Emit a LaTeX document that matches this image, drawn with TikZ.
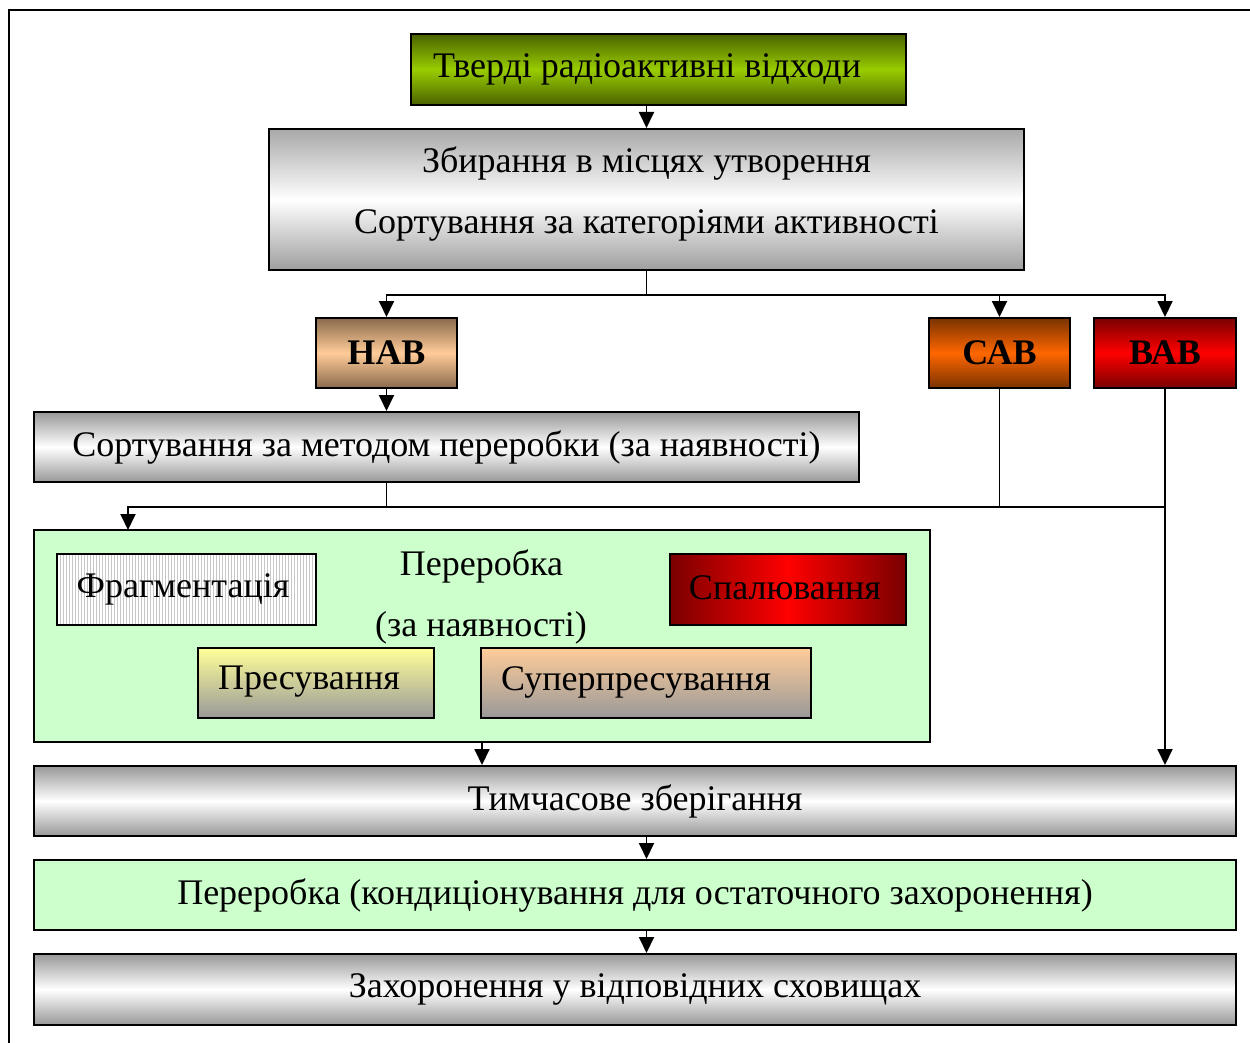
\documentclass[tikz,border=0pt]{standalone}
\usepackage{fontspec}
\setmainfont{Liberation Serif}
\usetikzlibrary{arrows.meta,patterns.meta}

\definecolor{tubegray}{HTML}{989898}
\definecolor{olive}{HTML}{4A6200}
\definecolor{lime}{HTML}{99CC00}
\definecolor{peach}{HTML}{FFCC99}
\definecolor{peachdark}{HTML}{8A6A4C}
\definecolor{orng}{HTML}{FF6600}
\definecolor{orngdark}{HTML}{7A3300}
\definecolor{redl}{HTML}{FF0000}
\definecolor{redd}{HTML}{7A0000}
\definecolor{mint}{HTML}{CCFFCC}
\definecolor{paleyel}{HTML}{FFFF99}
\definecolor{stone}{HTML}{999999}

\tikzset{
  box/.style={draw=black, line width=2pt, inner sep=0pt, font=\fontsize{36}{43}\selectfont},
  tube/.style={box, top color=tubegray, bottom color=tubegray, middle color=white},
  label/.style={inner sep=0pt, font=\fontsize{36}{43}\selectfont},
  cat/.style={box, font=\fontsize{36}{43}\selectfont\bfseries,
              minimum height=70pt},
  wire/.style={line width=1.9pt},
  arr/.style={wire, -{Triangle[length=16pt,width=15pt]}}
}

\begin{document}
\begin{tikzpicture}[x=1pt,y=-1pt]
\useasboundingbox (0,0) rectangle (1250,1043);

% outer frame (left and top edges)
\draw[line width=2pt] (9,1050) -- (9,10) -- (1260,10);

% top chain
\node[box, minimum width=495pt, minimum height=71pt,
      top color=olive, bottom color=olive, middle color=lime]
      (waste) at (658.5,69.5) {};
\node[label] (wasteT) at (647,69) {Тверді радіоактивні відходи};
\node[tube, minimum width=755pt, minimum height=141pt,
      top color=black!34, bottom color=black!38, middle color=white]
      (collect) at (646.5,199.5) {};
\node[label] (collectA) at (646.5,164) {Збирання в місцях утворення};
\node[label] (collectB) at (646.5,225) {Сортування за категоріями активності};

% activity categories
\node[cat, minimum width=141pt, top color=peachdark, bottom color=peachdark, middle color=peach]
      (nav) at (386.5,353) {НАВ};
\node[cat, minimum width=141pt, top color=orngdark, bottom color=orngdark, middle color=orng]
      (sav) at (999.5,353) {САВ};
\node[cat, minimum width=142pt, top color=redd, bottom color=redd, middle color=redl]
      (vav) at (1165,353) {ВАВ};

\node[tube, minimum width=825pt, minimum height=70pt]
      (sortm) at (446.5,447) {Сортування за методом переробки (за наявності)};

% processing block
\node[box, fill=mint, minimum width=896pt, minimum height=212pt] (proc) at (482,636) {};
\node[label] (procA) at (481.5,566) {Переробка};
\node[label] (procB) at (481,628) {(за наявності)};
\node[box, preaction={fill=white},
      pattern={Lines[angle=90,distance=3pt,line width=0.5pt]}, pattern color=black!22,
      minimum width=259pt, minimum height=71pt]
      (frag) at (186.5,589.5) {};
\node[label] (fragT) at (183,589) {Фрагментація};
\node[box, left color=redd, right color=redd, middle color=redl,
      minimum width=236pt, minimum height=71pt]
      (burn) at (788,589.5) {};
\node[label] (burnT) at (785,588) {Спалювання};
\node[box, top color=paleyel, bottom color=stone,
      minimum width=236pt, minimum height=70pt]
      (press) at (316,683) {};
\node[label] (pressT) at (309,682) {Пресування};
\node[box, top color=peach, bottom color=stone,
      minimum width=330pt, minimum height=70pt]
      (super) at (646,683) {};
\node[label] (superT) at (636,682) {Суперпресування};

% final chain
\node[tube, minimum width=1202pt, minimum height=70pt] (store) at (635,801) {Тимчасове зберігання};
\node[box, fill=mint, minimum width=1202pt, minimum height=70pt]
      (cond) at (635,895) {Переробка (кондиціонування для остаточного захоронення)};
\node[tube, minimum width=1202pt, minimum height=71pt] (bury) at (635,989.5) {Захоронення у відповідних сховищах};

% connectors
\draw[arr] (collect.north |- waste.south) -- (collect.north);
\draw[wire] (collect.south) -- ++(0,24) coordinate (split);
\draw[arr] (split) -| (nav.north);
\draw[arr] (split) -| (sav.north);
\draw[arr] (split) -| (vav.north);

\draw[arr] (nav.south) -- (nav.south |- sortm.north);
\draw[wire] (nav.south |- sortm.south) -- ++(0,24) coordinate (merge);
\coordinate (procin) at (128,530);
\draw[arr] (merge) -| (procin);
\draw[wire] (sav.south) -- (sav.south |- merge);
\draw[wire] (merge) -- (vav.south |- merge);
\draw[arr] (vav.south) -- (vav.south |- store.north);

\draw[arr] (proc.south) -- (proc.south |- store.north);
\draw[arr] (collect.south |- store.south) -- (collect.south |- cond.north);
\draw[arr] (collect.south |- cond.south) -- (collect.south |- bury.north);
\end{tikzpicture}
\end{document}
